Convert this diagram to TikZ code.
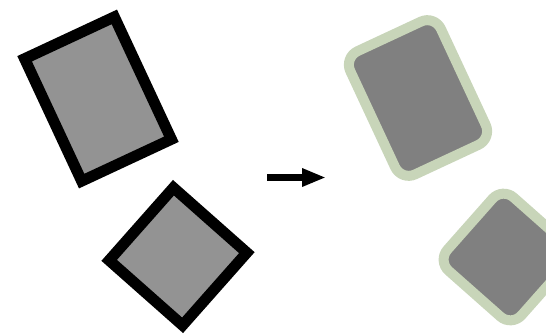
\documentclass[tikz,border=0pt]{standalone}
\usepackage{tikz}
\usetikzlibrary{arrows.meta}
\definecolor{plain}{RGB}{147,147,147}
\definecolor{soft}{RGB}{128,128,128}
\definecolor{sage}{RGB}{200,213,185}

\begin{document}
\begin{tikzpicture}[x=1pt, y=-1pt,
  sharp/.style={draw=black, fill=plain, line width=11pt, inner sep=0pt},
  round/.style={draw=sage, fill=soft, line width=10pt, inner sep=0pt,
                rounded corners=15pt},
  arr/.style={-{Triangle[length=24pt, width=17pt]}, line width=6.5pt}
]
  \useasboundingbox (0,0) rectangle (546,333);
  \clip (0,0) rectangle (546,333);
  % before
  \node[sharp, rotate=25, minimum width=99pt, minimum height=135pt] (a) at (98,99) {};
  \node[sharp, rotate=48.5, minimum width=97pt, minimum height=98pt] (b) at (178,256.5) {};
  % after
  \node[round, rotate=25, minimum width=100pt, minimum height=136pt] (c) at (418,98) {};
  \node[round, rotate=48.5, minimum width=98pt, minimum height=99pt] (d) at (507,257) {};
  \coordinate (from) at (267,177.5);
  \coordinate (to) at (326,177.5);
  \draw[arr] (from) -- (to);
\end{tikzpicture}
\end{document}
